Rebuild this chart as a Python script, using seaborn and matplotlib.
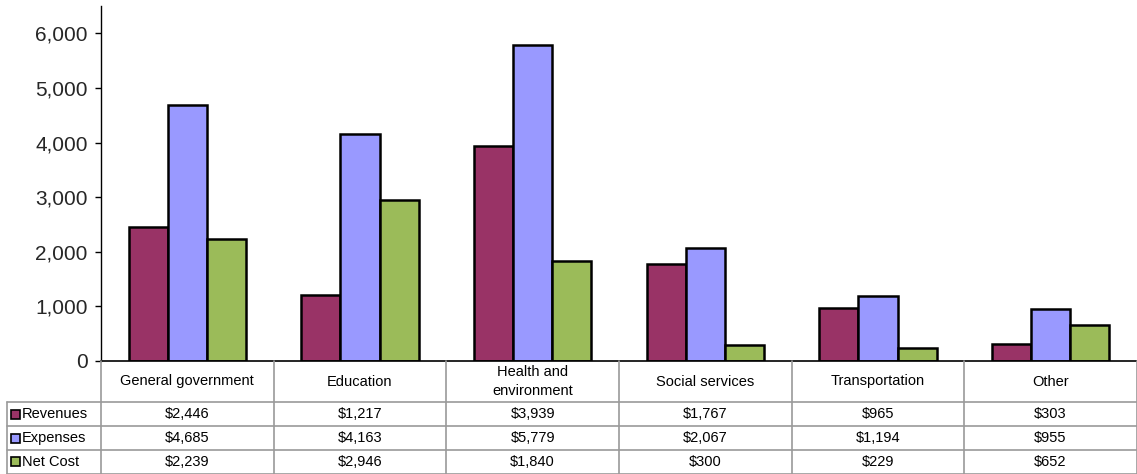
import matplotlib
matplotlib.use("Agg")
import matplotlib.pyplot as plt
import seaborn as sns
import pandas as pd
from matplotlib.lines import Line2D
from matplotlib.patches import Rectangle
from matplotlib.ticker import FuncFormatter

categories = ["General government", "Education", "Health and\nenvironment",
              "Social services", "Transportation", "Other"]
series = ["Revenues", "Expenses", "Net Cost"]
revenues = [2446, 1217, 3939, 1767, 965, 303]
expenses = [4685, 4163, 5779, 2067, 1194, 955]
net_cost = [2239, 2946, 1840, 300, 229, 652]
colors = ["#993366", "#9999FF", "#9BBB59"]

values = [revenues, expenses, net_cost]
df = pd.DataFrame({
    "category": categories * 3,
    "series": sum([[s] * len(categories) for s in series], []),
    "value": revenues + expenses + net_cost,
})

sns.set_theme(style="white")
plt.rcParams['font.family'] = ['Liberation Sans', 'DejaVu Sans']

W, H = 1137, 474
fig = plt.figure(figsize=(W / 100, H / 100), dpi=100)

def fx(px):
    return px / W

def fy(py):
    return 1 - py / H

ax_left, ax_right, ax_top, ax_bottom = 101, 1137, 6, 361
ax = fig.add_axes([fx(ax_left), fy(ax_bottom), fx(ax_right - ax_left), (ax_bottom - ax_top) / H])

sns.barplot(data=df, x="category", y="value", hue="series", order=categories,
            hue_order=series, palette=colors, width=0.68, gap=0,
            edgecolor="black", linewidth=1.8, saturation=1, legend=False, ax=ax)

ax.set_xlim(-0.5, len(categories) - 0.5)
ax.set_ylim(0, 6500)
ax.set_yticks(range(0, 7000, 1000))
ax.yaxis.set_major_formatter(FuncFormatter(lambda v, p: f"{int(v):,}"))
ax.tick_params(axis="y", labelsize=15, length=4.5, width=1, color="black", left=True, pad=5)
ax.tick_params(axis="x", bottom=False, labelbottom=False)
ax.set_xlabel("")
ax.set_ylabel("")
for s in ["top", "right"]:
    ax.spines[s].set_visible(False)
ax.spines["left"].set_color("black")
ax.spines["left"].set_linewidth(1)
ax.spines["bottom"].set_color("black")
ax.spines["bottom"].set_linewidth(1.2)
ax.patch.set_alpha(0)

# table drawn below axes
grid_c = "#9a9a9a"
row_y = [361, 402, 426, 450, 473.5]
col_w = (ax_right - ax_left) / len(categories)
col_x = [ax_left + i * col_w for i in range(len(categories) + 1)]
col_x[-1] = 1136.5
label_left = 7

def hline(y, x0, x1, c=grid_c, lw=1.2):
    fig.add_artist(Line2D([fx(x0), fx(x1)], [fy(y), fy(y)], color=c, lw=lw, transform=fig.transFigure))

def vline(x, y0, y1, c=grid_c, lw=1.2):
    fig.add_artist(Line2D([fx(x), fx(x)], [fy(y0), fy(y1)], color=c, lw=lw, transform=fig.transFigure))

for y in row_y[1:]:
    hline(y, label_left, col_x[-1])
vline(label_left, row_y[1], row_y[-1])
for x in col_x:
    vline(x, row_y[0], row_y[-1])

fs = 10.5
for i, cat in enumerate(categories):
    cx = (col_x[i] + col_x[i + 1]) / 2
    cy = (row_y[0] + row_y[1]) / 2
    fig.text(fx(cx), fy(cy), cat, ha="center", va="center", fontsize=fs,
             linespacing=1.4, color="black")

for r, (name, vals, col) in enumerate(zip(series, values, colors)):
    y0, y1 = row_y[r + 1], row_y[r + 2]
    cy = (y0 + y1) / 2
    fig.add_artist(Rectangle((fx(11), fy(cy + 4.5)), fx(9), 9 / H, facecolor=col,
                             edgecolor="black", lw=1.2, transform=fig.transFigure))
    fig.text(fx(22), fy(cy), name, ha="left", va="center", fontsize=fs, color="black")
    for i, v in enumerate(vals):
        cx = (col_x[i] + col_x[i + 1]) / 2
        fig.text(fx(cx), fy(cy), f"${v:,}", ha="center", va="center", fontsize=fs, color="black")

fig.savefig("out.png", dpi=100)
